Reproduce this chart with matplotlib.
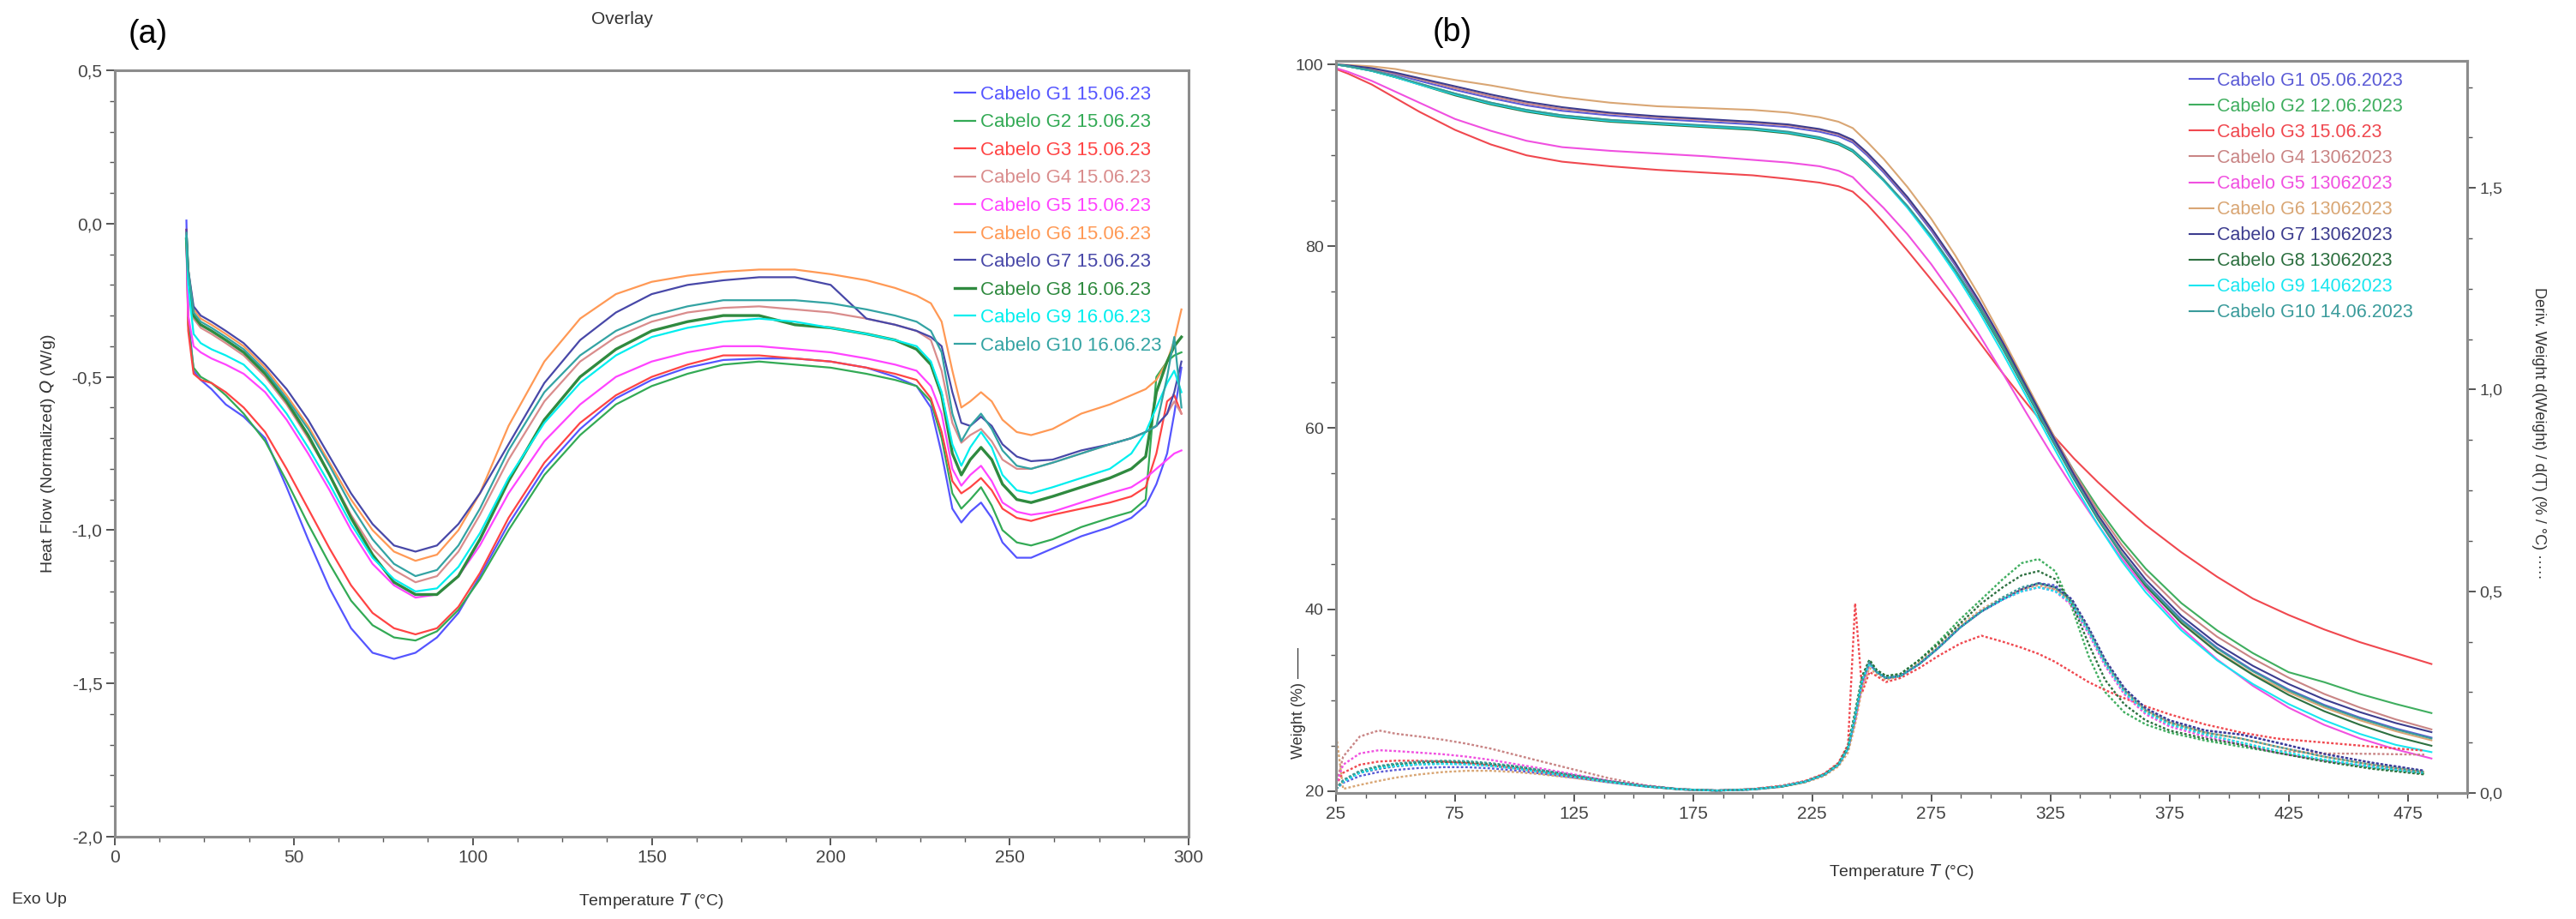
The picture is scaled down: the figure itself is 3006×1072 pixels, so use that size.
import matplotlib
matplotlib.use("Agg")
import matplotlib.pyplot as plt
from matplotlib.ticker import MultipleLocator, FuncFormatter

plt.rcParams['font.family'] = ['Liberation Sans Narrow', 'Liberation Sans', 'DejaVu Sans']
plt.rcParams['mathtext.fontset'] = 'custom'
plt.rcParams['mathtext.it'] = 'Liberation Sans Narrow:italic'
plt.rcParams['mathtext.rm'] = 'Liberation Sans Narrow'

# ---- (a) DSC data ----
T_dsc = [20, 20.5, 22, 24, 27, 31, 36, 42, 48, 54, 60, 66, 72, 78, 84, 90, 96, 102, 110, 120,
         130, 140, 150, 160, 170, 180, 190, 200, 210, 218, 224, 228, 231, 234, 236.5, 239, 242, 245, 248, 252,
         256, 262, 270, 278, 284, 288, 291, 294, 296, 298]

hf_g1 = [0.01, -0.30, -0.48, -0.51, -0.54, -0.59, -0.63, -0.70, -0.86, -1.03, -1.19, -1.32, -1.40, -1.42, -1.40, -1.35, -1.27, -1.15, -0.98, -0.80,
         -0.67, -0.57, -0.51, -0.47, -0.445, -0.44, -0.44, -0.45, -0.47, -0.50, -0.53, -0.60, -0.75, -0.93, -0.975, -0.94, -0.91, -0.96, -1.04, -1.09,
         -1.09, -1.06, -1.02, -0.99, -0.96, -0.92, -0.85, -0.75, -0.62, -0.47]
hf_g2 = [-0.05, -0.33, -0.47, -0.50, -0.52, -0.56, -0.62, -0.71, -0.84, -0.98, -1.11, -1.23, -1.31, -1.35, -1.36, -1.33, -1.26, -1.16, -1.00, -0.82,
         -0.69, -0.59, -0.53, -0.49, -0.46, -0.45, -0.46, -0.47, -0.49, -0.51, -0.53, -0.58, -0.70, -0.88, -0.93, -0.90, -0.86, -0.92, -1.00, -1.04,
         -1.05, -1.03, -0.99, -0.96, -0.94, -0.90, -0.50, -0.45, -0.43, -0.42]
hf_g3 = [-0.02, -0.35, -0.49, -0.51, -0.52, -0.55, -0.60, -0.68, -0.80, -0.93, -1.06, -1.18, -1.27, -1.32, -1.34, -1.32, -1.25, -1.14, -0.96, -0.78,
         -0.65, -0.56, -0.50, -0.46, -0.43, -0.43, -0.44, -0.45, -0.47, -0.49, -0.51, -0.57, -0.68, -0.84, -0.88, -0.86, -0.83, -0.87, -0.93, -0.96,
         -0.97, -0.95, -0.93, -0.91, -0.89, -0.86, -0.75, -0.58, -0.56, -0.62]
hf_g4 = [-0.04, -0.18, -0.31, -0.34, -0.36, -0.39, -0.43, -0.50, -0.59, -0.70, -0.82, -0.95, -1.06, -1.13, -1.17, -1.15, -1.07, -0.95, -0.77, -0.58,
         -0.45, -0.37, -0.32, -0.29, -0.275, -0.27, -0.28, -0.29, -0.31, -0.33, -0.35, -0.38, -0.48, -0.65, -0.715, -0.69, -0.67, -0.71, -0.77, -0.80,
         -0.80, -0.78, -0.75, -0.72, -0.70, -0.68, -0.66, -0.62, -0.58, -0.62]
hf_g5 = [-0.08, -0.30, -0.40, -0.42, -0.44, -0.46, -0.49, -0.55, -0.64, -0.75, -0.87, -1.00, -1.11, -1.18, -1.22, -1.21, -1.15, -1.05, -0.88, -0.71,
         -0.59, -0.50, -0.45, -0.42, -0.40, -0.40, -0.41, -0.42, -0.44, -0.46, -0.48, -0.53, -0.62, -0.80, -0.855, -0.82, -0.79, -0.84, -0.91, -0.94,
         -0.95, -0.94, -0.91, -0.88, -0.86, -0.83, -0.80, -0.77, -0.75, -0.74]
hf_g6 = [-0.05, -0.15, -0.28, -0.31, -0.33, -0.36, -0.40, -0.47, -0.56, -0.66, -0.78, -0.90, -1.00, -1.07, -1.10, -1.08, -1.00, -0.88, -0.66, -0.45,
         -0.31, -0.23, -0.19, -0.17, -0.157, -0.15, -0.15, -0.165, -0.185, -0.21, -0.235, -0.26, -0.32, -0.48, -0.60, -0.58, -0.55, -0.58, -0.64, -0.68,
         -0.69, -0.67, -0.62, -0.59, -0.56, -0.54, -0.51, -0.45, -0.38, -0.28]
hf_g7 = [-0.02, -0.15, -0.27, -0.30, -0.32, -0.35, -0.39, -0.46, -0.54, -0.64, -0.76, -0.88, -0.98, -1.05, -1.07, -1.05, -0.98, -0.88, -0.72, -0.52,
         -0.38, -0.29, -0.23, -0.20, -0.185, -0.175, -0.175, -0.20, -0.31, -0.33, -0.35, -0.37, -0.40, -0.55, -0.65, -0.66, -0.63, -0.66, -0.72, -0.76,
         -0.775, -0.77, -0.74, -0.72, -0.70, -0.68, -0.66, -0.62, -0.55, -0.45]
hf_g8 = [-0.05, -0.17, -0.30, -0.33, -0.35, -0.38, -0.42, -0.49, -0.58, -0.69, -0.82, -0.96, -1.08, -1.17, -1.21, -1.21, -1.15, -1.03, -0.84, -0.64,
         -0.50, -0.41, -0.35, -0.32, -0.30, -0.30, -0.33, -0.34, -0.36, -0.38, -0.41, -0.46, -0.56, -0.75, -0.82, -0.77, -0.73, -0.77, -0.85, -0.90,
         -0.91, -0.89, -0.86, -0.83, -0.80, -0.76, -0.55, -0.45, -0.40, -0.37]
hf_g9 = [-0.04, -0.20, -0.36, -0.39, -0.41, -0.43, -0.46, -0.53, -0.62, -0.73, -0.85, -0.98, -1.09, -1.16, -1.20, -1.19, -1.12, -1.01, -0.83, -0.65,
         -0.52, -0.43, -0.37, -0.34, -0.32, -0.31, -0.32, -0.34, -0.36, -0.38, -0.40, -0.45, -0.55, -0.72, -0.79, -0.73, -0.68, -0.73, -0.82, -0.87,
         -0.88, -0.86, -0.83, -0.80, -0.75, -0.68, -0.60, -0.52, -0.48, -0.55]
hf_g10 = [-0.03, -0.15, -0.29, -0.32, -0.34, -0.37, -0.41, -0.48, -0.57, -0.67, -0.79, -0.92, -1.03, -1.11, -1.15, -1.13, -1.05, -0.93, -0.74, -0.55,
          -0.43, -0.35, -0.30, -0.27, -0.25, -0.25, -0.25, -0.26, -0.28, -0.30, -0.32, -0.35, -0.42, -0.62, -0.71, -0.66, -0.62, -0.67, -0.74, -0.79,
          -0.80, -0.78, -0.75, -0.72, -0.70, -0.68, -0.66, -0.50, -0.37, -0.60]

labels_a = ["Cabelo G1 15.06.23", "Cabelo G2 15.06.23", "Cabelo G3 15.06.23", "Cabelo G4 15.06.23",
            "Cabelo G5 15.06.23", "Cabelo G6 15.06.23", "Cabelo G7 15.06.23", "Cabelo G8 16.06.23",
            "Cabelo G9 16.06.23", "Cabelo G10 16.06.23"]
colors_a = ['#5555ff', '#33aa55', '#ff4444', '#d98c8c', '#ff44ff', '#ff9955', '#4848a8', '#2f8a3f', '#00eeee', '#33a3a3']

# ---- (b) TGA / DTG data ----
T_tg = [25, 30, 40, 50, 60, 75, 90, 105, 120, 140, 160, 180, 200, 215, 228, 236, 242, 248, 255, 265,
        275, 285, 295, 305, 315, 325, 335, 345, 355, 365, 380, 395, 410, 425, 440, 455, 470, 485]

wt_g1 = [100, 99.9, 99.5, 98.9, 98.2, 97.2, 96.3, 95.5, 94.9, 94.4, 94.0, 93.7, 93.4, 93.1, 92.6, 92.1, 91.4, 90.0, 88.1, 85.1,
         81.7, 77.9, 73.7, 69.1, 64.2, 59.3, 54.5, 50.1, 46.2, 42.9, 38.9, 35.8, 33.3, 31.2, 29.5, 28.1, 26.9, 25.9]
wt_g2 = [100, 99.8, 99.3, 98.6, 97.9, 96.8, 95.8, 95.0, 94.4, 93.9, 93.5, 93.2, 92.9, 92.5, 91.9, 91.3, 90.5, 89.1, 87.3, 84.4,
         81.1, 77.4, 73.4, 69.0, 64.3, 59.6, 55.2, 51.2, 47.6, 44.5, 40.7, 37.7, 35.2, 33.1, 32.0, 30.7, 29.6, 28.6]
wt_g3 = [99.5, 99.0, 97.8, 96.3, 94.8, 92.8, 91.2, 90.0, 89.3, 88.8, 88.4, 88.1, 87.8, 87.4, 87.0, 86.6, 86.0, 84.6, 82.6, 79.5,
         76.3, 73.0, 69.5, 66.0, 62.7, 59.5, 56.6, 54.0, 51.6, 49.3, 46.3, 43.6, 41.2, 39.4, 37.8, 36.4, 35.2, 34.0]
wt_g4 = [100, 99.9, 99.5, 99.0, 98.4, 97.4, 96.5, 95.7, 95.1, 94.6, 94.2, 93.9, 93.6, 93.3, 92.8, 92.3, 91.6, 90.2, 88.3, 85.3,
         81.9, 78.1, 73.9, 69.4, 64.6, 59.8, 55.1, 50.8, 47.1, 43.9, 40.0, 37.0, 34.6, 32.5, 30.7, 29.2, 27.9, 26.8]
wt_g5 = [99.6, 99.2, 98.2, 97.0, 95.8, 94.0, 92.7, 91.6, 90.9, 90.5, 90.2, 89.9, 89.5, 89.2, 88.8, 88.3, 87.6, 86.0, 84.2, 81.3,
         78.0, 74.3, 70.3, 66.0, 61.6, 57.3, 53.2, 49.3, 45.6, 42.3, 38.0, 34.5, 31.6, 29.2, 27.3, 25.8, 24.6, 23.6]
wt_g6 = [100, 99.95, 99.8, 99.5, 99.0, 98.3, 97.7, 97.0, 96.4, 95.8, 95.4, 95.2, 95.0, 94.7, 94.2, 93.7, 93.0, 91.5, 89.6, 86.5,
         83.0, 79.0, 74.6, 69.8, 64.8, 59.8, 54.8, 50.2, 46.2, 42.8, 38.6, 35.4, 32.9, 30.9, 29.2, 27.8, 26.6, 25.6]
wt_g7 = [100, 99.9, 99.6, 99.1, 98.5, 97.6, 96.7, 95.9, 95.3, 94.7, 94.3, 94.0, 93.7, 93.4, 92.9, 92.4, 91.7, 90.3, 88.4, 85.4,
         82.0, 78.2, 74.0, 69.4, 64.5, 59.6, 54.8, 50.4, 46.6, 43.3, 39.3, 36.2, 33.8, 31.8, 30.1, 28.7, 27.5, 26.5]
wt_g8 = [100, 99.8, 99.3, 98.6, 97.8, 96.6, 95.6, 94.8, 94.2, 93.7, 93.4, 93.1, 92.8, 92.4, 91.8, 91.2, 90.4, 89.0, 87.2, 84.3,
         81.0, 77.3, 73.2, 68.7, 63.9, 59.0, 54.3, 49.9, 46.0, 42.6, 38.5, 35.3, 32.8, 30.6, 28.8, 27.3, 26.0, 25.0]
wt_g9 = [100, 99.8, 99.3, 98.6, 97.8, 96.7, 95.7, 94.9, 94.3, 93.8, 93.5, 93.2, 92.9, 92.5, 91.9, 91.3, 90.5, 89.1, 87.2, 84.2,
         80.8, 77.0, 72.8, 68.2, 63.4, 58.5, 53.7, 49.3, 45.3, 41.9, 37.7, 34.4, 31.8, 29.6, 27.8, 26.3, 25.1, 24.3]
wt_g10 = [100, 99.8, 99.35, 98.7, 97.9, 96.8, 95.8, 95.0, 94.4, 93.9, 93.6, 93.3, 93.0, 92.6, 92.0, 91.4, 90.6, 89.2, 87.3, 84.4,
          81.1, 77.4, 73.3, 68.8, 64.0, 59.1, 54.4, 50.0, 46.1, 42.8, 38.8, 35.7, 33.2, 31.1, 29.4, 28.0, 26.8, 25.8]

T_dtg = [25, 28, 35, 43, 50, 60, 70, 80, 90, 100, 110, 125, 140, 155, 170, 185, 200, 212, 222, 230,
         236, 240, 243, 246, 249, 252, 256, 262, 270, 278, 287, 296, 305, 313, 320, 327, 334, 341, 348, 356,
         365, 375, 390, 405, 420, 440, 460, 482]

dtg_g1 = [0.01, 0.025, 0.042, 0.052, 0.057, 0.062, 0.064, 0.064, 0.061, 0.056, 0.049, 0.038, 0.026, 0.016, 0.009, 0.006, 0.009, 0.016, 0.028, 0.045,
          0.07, 0.11, 0.18, 0.27, 0.32, 0.30, 0.285, 0.29, 0.32, 0.36, 0.41, 0.45, 0.48, 0.505, 0.52, 0.515, 0.48, 0.41, 0.33, 0.26,
          0.21, 0.18, 0.155, 0.145, 0.125, 0.097, 0.075, 0.055]
dtg_g2 = [0.01, 0.03, 0.052, 0.064, 0.07, 0.075, 0.077, 0.076, 0.071, 0.065, 0.056, 0.042, 0.028, 0.017, 0.009, 0.006, 0.009, 0.016, 0.028, 0.046,
          0.072, 0.115, 0.20, 0.29, 0.33, 0.305, 0.29, 0.295, 0.33, 0.375, 0.43, 0.48, 0.53, 0.57, 0.58, 0.55, 0.46, 0.34, 0.25, 0.20,
          0.17, 0.15, 0.13, 0.115, 0.10, 0.08, 0.062, 0.048]
dtg_g3 = [0.02, 0.05, 0.07, 0.078, 0.08, 0.08, 0.078, 0.074, 0.068, 0.061, 0.053, 0.041, 0.028, 0.017, 0.009, 0.006, 0.010, 0.018, 0.030, 0.048,
          0.075, 0.12, 0.47, 0.25, 0.30, 0.29, 0.275, 0.285, 0.31, 0.34, 0.37, 0.39, 0.375, 0.36, 0.345, 0.325, 0.30, 0.275, 0.255, 0.235,
          0.215, 0.195, 0.17, 0.15, 0.135, 0.125, 0.115, 0.105]
dtg_g4 = [0.02, 0.09, 0.14, 0.155, 0.147, 0.14, 0.132, 0.122, 0.11, 0.095, 0.08, 0.058, 0.036, 0.019, 0.009, 0.006, 0.009, 0.016, 0.028, 0.045,
          0.07, 0.11, 0.18, 0.27, 0.32, 0.30, 0.285, 0.29, 0.32, 0.36, 0.41, 0.45, 0.48, 0.50, 0.51, 0.505, 0.47, 0.40, 0.32, 0.25,
          0.20, 0.17, 0.145, 0.125, 0.105, 0.098, 0.097, 0.095]
dtg_g5 = [0.02, 0.07, 0.098, 0.106, 0.104, 0.10, 0.096, 0.09, 0.082, 0.072, 0.062, 0.046, 0.030, 0.018, 0.009, 0.006, 0.009, 0.016, 0.028, 0.045,
          0.07, 0.11, 0.18, 0.27, 0.32, 0.30, 0.285, 0.29, 0.32, 0.36, 0.41, 0.45, 0.48, 0.50, 0.51, 0.50, 0.465, 0.395, 0.315, 0.245,
          0.195, 0.165, 0.14, 0.12, 0.10, 0.08, 0.065, 0.05]
dtg_g6 = [0.15, 0.01, 0.02, 0.03, 0.038, 0.046, 0.052, 0.055, 0.055, 0.052, 0.047, 0.037, 0.026, 0.016, 0.009, 0.006, 0.009, 0.015, 0.026, 0.042,
          0.066, 0.10, 0.17, 0.26, 0.31, 0.295, 0.28, 0.29, 0.325, 0.365, 0.415, 0.455, 0.485, 0.505, 0.515, 0.505, 0.475, 0.405, 0.325, 0.255,
          0.205, 0.175, 0.15, 0.135, 0.115, 0.09, 0.07, 0.052]
dtg_g7 = [0.01, 0.03, 0.05, 0.06, 0.066, 0.071, 0.073, 0.072, 0.068, 0.062, 0.054, 0.041, 0.028, 0.017, 0.009, 0.006, 0.009, 0.016, 0.028, 0.045,
          0.07, 0.11, 0.19, 0.28, 0.325, 0.30, 0.285, 0.29, 0.32, 0.36, 0.41, 0.45, 0.48, 0.505, 0.52, 0.51, 0.48, 0.41, 0.33, 0.26,
          0.21, 0.18, 0.155, 0.145, 0.125, 0.097, 0.075, 0.055]
dtg_g8 = [0.01, 0.03, 0.053, 0.065, 0.071, 0.076, 0.078, 0.077, 0.072, 0.066, 0.057, 0.043, 0.029, 0.017, 0.009, 0.006, 0.009, 0.016, 0.028, 0.046,
          0.072, 0.115, 0.20, 0.29, 0.33, 0.305, 0.29, 0.295, 0.33, 0.37, 0.42, 0.47, 0.51, 0.54, 0.55, 0.53, 0.47, 0.37, 0.28, 0.22,
          0.18, 0.155, 0.135, 0.12, 0.10, 0.078, 0.06, 0.046]
dtg_g9 = [0.01, 0.028, 0.05, 0.062, 0.067, 0.071, 0.072, 0.071, 0.067, 0.061, 0.053, 0.040, 0.027, 0.016, 0.009, 0.006, 0.009, 0.016, 0.028, 0.045,
          0.07, 0.11, 0.19, 0.28, 0.32, 0.30, 0.285, 0.29, 0.32, 0.36, 0.41, 0.45, 0.48, 0.50, 0.51, 0.50, 0.47, 0.40, 0.32, 0.25,
          0.20, 0.17, 0.145, 0.125, 0.105, 0.083, 0.065, 0.05]
dtg_g10 = [0.01, 0.032, 0.055, 0.067, 0.073, 0.078, 0.08, 0.079, 0.074, 0.067, 0.058, 0.044, 0.029, 0.017, 0.009, 0.006, 0.009, 0.016, 0.028, 0.045,
           0.07, 0.11, 0.19, 0.28, 0.325, 0.30, 0.285, 0.29, 0.32, 0.36, 0.41, 0.45, 0.485, 0.51, 0.52, 0.51, 0.475, 0.405, 0.325, 0.255,
           0.205, 0.175, 0.15, 0.135, 0.115, 0.09, 0.07, 0.052]

labels_b = ["Cabelo G1 05.06.2023", "Cabelo G2 12.06.2023", "Cabelo G3 15.06.23", "Cabelo G4 13062023",
            "Cabelo G5 13062023", "Cabelo G6 13062023", "Cabelo G7 13062023", "Cabelo G8 13062023",
            "Cabelo G9 14062023", "Cabelo G10 14.06.2023"]
colors_b = ['#5b5bd6', '#3fae5f', '#f0484f', '#c98585', '#f050e0', '#d9a674', '#3d3d8f', '#2d7040', '#19e6f0', '#3a9b9b']

hf_all = [hf_g1, hf_g2, hf_g3, hf_g4, hf_g5, hf_g6, hf_g7, hf_g8, hf_g9, hf_g10]
wt_all = [wt_g1, wt_g2, wt_g3, wt_g4, wt_g5, wt_g6, wt_g7, wt_g8, wt_g9, wt_g10]
dtg_all = [dtg_g1, dtg_g2, dtg_g3, dtg_g4, dtg_g5, dtg_g6, dtg_g7, dtg_g8, dtg_g9, dtg_g10]

W, H = 3006, 1072
fig = plt.figure(figsize=(W / 100, H / 100), dpi=100)
spine_c = '#8c8c8c'
tick_c = '#555555'
comma = FuncFormatter(lambda v, p: ("%.1f" % v).replace('.', ','))


def style_axes(ax):
    for s in ax.spines.values():
        s.set_color(spine_c)
        s.set_linewidth(2.2)
    ax.tick_params(which='major', direction='out', length=7, width=1.4, color=tick_c, labelcolor='#444444')
    ax.tick_params(which='minor', direction='out', length=4, width=1.0, color=tick_c)


# panel (a)
ax_a = fig.add_axes([134 / W, 1 - 976 / H, (1387 - 134) / W, (976 - 82) / H])
for i in range(10):
    lw = 2.4 if i == 7 else 1.6
    ax_a.plot(T_dsc, hf_all[i], color=colors_a[i], lw=lw, label=labels_a[i])
ax_a.set_xlim(0, 300)
ax_a.set_ylim(-2.0, 0.5)
ax_a.xaxis.set_major_locator(MultipleLocator(50))
ax_a.xaxis.set_minor_locator(MultipleLocator(12.5))
ax_a.yaxis.set_major_locator(MultipleLocator(0.5))
ax_a.yaxis.set_minor_locator(MultipleLocator(0.1))
ax_a.yaxis.set_major_formatter(comma)
style_axes(ax_a)
ax_a.tick_params(axis='both', labelsize=15)
ax_a.set_xlabel("Temperature $T$ (°C)", fontsize=14, color='#333333', labelpad=22)
ax_a.set_ylabel("Heat Flow (Normalized) $Q$ (W/g)", fontsize=14, color='#333333', labelpad=12)
leg_a = ax_a.legend(loc='upper left', bbox_to_anchor=(0.775, 0.99), frameon=False, fontsize=16,
                    handlelength=1.1, handletextpad=0.25, labelspacing=0.52, borderaxespad=0)
for t, c in zip(leg_a.get_texts(), colors_a):
    t.set_color(c)
fig.text(726 / W, 1 - 22 / H, "Overlay", fontsize=15, color='#333333', ha='center', va='center')
fig.text(150 / W, 1 - 40 / H, "(a)", fontsize=27, color='black', ha='left', va='center',
         family=['Liberation Sans', 'DejaVu Sans'])
fig.text(14 / W, 1 - 1050 / H, "Exo Up", fontsize=14, color='#333333', ha='left', va='center')

# panel (b)
ax_b = fig.add_axes([1559 / W, 1 - 925 / H, (2879 - 1559) / W, (925 - 71) / H])
ax_b2 = ax_b.twinx()
for i in range(10):
    ax_b.plot(T_tg, wt_all[i], color=colors_b[i], lw=1.5, label=labels_b[i])
    ax_b2.plot(T_dtg, dtg_all[i], color=colors_b[i], lw=1.7, ls=(0, (1.2, 1.0)))
ax_b.set_xlim(25, 500)
ax_b.set_ylim(19.8, 100.4)
ax_b2.set_ylim(0, 1.815)
ax_b.xaxis.set_major_locator(MultipleLocator(50, offset=25))
ax_b.xaxis.set_minor_locator(MultipleLocator(12.5))
ax_b.yaxis.set_major_locator(MultipleLocator(20))
ax_b.yaxis.set_minor_locator(MultipleLocator(5))
ax_b2.yaxis.set_major_locator(MultipleLocator(0.5))
ax_b2.yaxis.set_minor_locator(MultipleLocator(0.125))
ax_b2.yaxis.set_major_formatter(comma)
style_axes(ax_b)
style_axes(ax_b2)
ax_b.tick_params(axis='x', labelsize=15)
ax_b.tick_params(axis='y', labelsize=14)
ax_b2.tick_params(axis='y', labelsize=14)
for lab in ax_b.get_yticklabels() + ax_b2.get_yticklabels():
    lab.set_family(['Liberation Sans', 'DejaVu Sans'])
ax_b.set_xlabel("Temperature $T$ (°C)", fontsize=14, color='#333333', labelpad=34)
fig.text(1515 / W, 1 - 820 / H, "Weight (%) \u2014\u2014", rotation=90, fontsize=13, color='#333333',
         ha='center', va='center', family=['Liberation Sans', 'DejaVu Sans'])
fig.text(2962 / W, 1 - 505 / H, "Deriv. Weight d(Weight) / d(T) (% / °C) \u00b7\u00b7\u00b7\u00b7\u00b7", rotation=270,
         fontsize=13, color='#333333', ha='center', va='center', family=['Liberation Sans', 'DejaVu Sans'])
leg_b = ax_b.legend(loc='upper left', bbox_to_anchor=(0.748, 0.995), frameon=False,
                    handlelength=1.3, handletextpad=0.2, labelspacing=0.42, borderaxespad=0,
                    prop={'family': ['Liberation Sans', 'DejaVu Sans'], 'size': 15.5})
for t, c in zip(leg_b.get_texts(), colors_b):
    t.set_color(c)
fig.text(1672 / W, 1 - 38 / H, "(b)", fontsize=27, color='black', ha='left', va='center',
         family=['Liberation Sans', 'DejaVu Sans'])

fig.savefig("out.png", dpi=100, facecolor='white')
